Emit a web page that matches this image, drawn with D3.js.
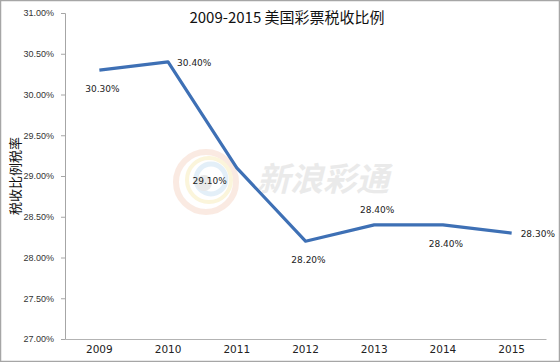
<!DOCTYPE html>
<html>
<head>
<meta charset="utf-8">
<script src="https://cdn.jsdelivr.net/npm/d3@7"></script>
<style>
  body { margin: 0; background: #fff; }
  svg { display: block; font-family: "Noto Sans CJK SC", "DejaVu Sans", sans-serif; }
</style>
</head>
<body>
<div id="chart"></div>
<script>
const years = ["2009", "2010", "2011", "2012", "2013", "2014", "2015"];
const rates = [30.3, 30.4, 29.1, 28.2, 28.4, 28.4, 28.3];
const yTicks = [27, 27.5, 28, 28.5, 29, 29.5, 30, 30.5, 31];
// where each value label sits relative to its point
const labelPos = ["below", "right", "left", "below", "above", "below", "right"];

const width = 560;
const height = 362;
const margin = {top: 13, right: 14, bottom: 23, left: 65};

const svg = d3.select("#chart").append("svg")
    .attr("width", width)
    .attr("height", height);

svg.append("rect")
    .attr("x", 0.5).attr("y", 0.5)
    .attr("width", width - 1).attr("height", height - 1)
    .attr("fill", "#fff")
    .attr("stroke", "#a6a6a6")
    .attr("stroke-width", 1.5);

const x = d3.scaleBand()
    .domain(years)
    .range([margin.left, width - margin.right]);

const y = d3.scaleLinear()
    .domain([27, 31])
    .range([height - margin.bottom, margin.top]);

// watermark
const wm = svg.append("g").attr("opacity", 0.5);
wm.append("circle").attr("cx", 206).attr("cy", 182).attr("r", 30)
    .attr("fill", "none").attr("stroke", "#f7d6c6").attr("stroke-width", 6);
wm.append("circle").attr("cx", 209).attr("cy", 180).attr("r", 22)
    .attr("fill", "none").attr("stroke", "#f8ecb8").attr("stroke-width", 4);
wm.append("circle").attr("cx", 211).attr("cy", 179).attr("r", 15)
    .attr("fill", "none").attr("stroke", "#c9e0f3").attr("stroke-width", 5);
wm.append("circle").attr("cx", 204).attr("cy", 183).attr("r", 8)
    .attr("fill", "#d4d4d4");
wm.append("text")
    .attr("x", 257).attr("y", 191)
    .attr("font-size", 33)
    .attr("font-weight", "bold")
    .attr("font-style", "italic")
    .attr("fill", "#d6d6d6")
    .text("新浪彩通");

// y axis
const yAxis = svg.append("g")
    .attr("transform", `translate(${margin.left},0)`)
    .call(d3.axisLeft(y).tickValues(yTicks).tickSize(4).tickFormat(d => d.toFixed(2) + "%"));
yAxis.select(".domain").attr("stroke", "#a6a6a6");
yAxis.selectAll(".tick line").attr("stroke", "#a6a6a6");
yAxis.selectAll("text")
    .attr("font-size", 9)
    .attr("fill", "#333")
    .attr("font-family", "Liberation Sans, DejaVu Sans, sans-serif")
    .attr("dx", "-4");

// x axis
const xAxis = svg.append("g")
    .attr("transform", `translate(0,${height - margin.bottom})`)
    .call(d3.axisBottom(x).tickSize(0).tickPadding(7));
xAxis.select(".domain").attr("stroke", "#b3b3b3").attr("stroke-width", 1.2);
xAxis.selectAll("text")
    .attr("font-size", 10.5)
    .attr("fill", "#222")
    .attr("font-family", "DejaVu Sans, sans-serif");

// line
const line = d3.line()
    .x((d, i) => x(years[i]) + x.bandwidth() / 2)
    .y(d => y(d));

svg.append("path")
    .datum(rates)
    .attr("d", line)
    .attr("fill", "none")
    .attr("stroke", "#3e70b5")
    .attr("stroke-width", 3.2)
    .attr("stroke-linejoin", "round");

// value labels
svg.append("g")
    .selectAll("text")
    .data(rates)
    .join("text")
    .attr("x", (d, i) => {
        const cx = x(years[i]) + x.bandwidth() / 2;
        if (labelPos[i] == "right") return cx + 9;
        if (labelPos[i] == "left") return cx - 10;
        return cx + 3;
    })
    .attr("y", (d, i) => {
        const cy = y(d);
        if (labelPos[i] == "below") return cy + 22;
        if (labelPos[i] == "above") return cy - 12;
        if (labelPos[i] == "left") return cy + 16;
        return cy + 4;
    })
    .attr("text-anchor", (d, i) => labelPos[i] == "right" ? "start" : (labelPos[i] == "left" ? "end" : "middle"))
    .attr("font-size", 9)
    .attr("fill", "#222")
    .attr("font-family", "DejaVu Sans, sans-serif")
    .text(d => d.toFixed(2) + "%");

// title
svg.append("text")
    .attr("x", 287).attr("y", 23)
    .attr("text-anchor", "middle")
    .attr("font-size", 15)
    .attr("fill", "#111")
    .text("2009-2015 美国彩票税收比例");

// y title
svg.append("text")
    .attr("transform", "translate(20,176) rotate(-90)")
    .attr("text-anchor", "middle")
    .attr("font-size", 13)
    .attr("fill", "#111")
    .text("税收比例税率");
</script>
</body>
</html>
